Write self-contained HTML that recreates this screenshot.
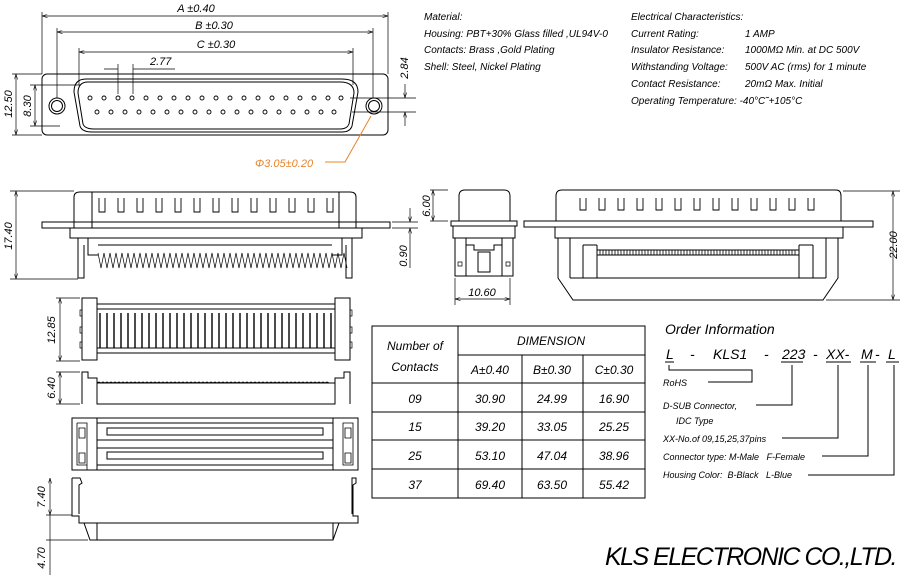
<!DOCTYPE html>
<html><head><style>
html,body{margin:0;padding:0;background:#fff}
svg{display:block}
text{font-family:"Liberation Sans",sans-serif;font-style:italic;fill:#000}
</style></head><body>
<svg width="907" height="576" viewBox="0 0 907 576" xmlns="http://www.w3.org/2000/svg">
<defs>
<marker id="a" viewBox="0 0 10 6" refX="10" refY="3" markerWidth="8" markerHeight="5" orient="auto-start-reverse"><path d="M0,0L10,3L0,6" fill="none" stroke="#000" stroke-width="1"/></marker>
</defs>
<g stroke="#000" stroke-width="1" fill="none">
<rect x="42" y="74" width="346" height="61" rx="5"/>
<path d="M86,79 H342 Q358,79 358,92 L352,126 Q350,132 342,132 H92 Q82,132 80,126 L74,92 Q74,79 86,79Z"/>
<path d="M88,82 H340 Q354,82 354,93 L349,124 Q347,129 340,129 H94 Q85,129 83,124 L78,93 Q78,82 88,82Z"/>
<circle cx="57" cy="106" r="8"/><circle cx="57" cy="106" r="5.5"/>
<circle cx="374" cy="106" r="8"/><circle cx="374" cy="106" r="5.5"/>
<g stroke-width="0.9">
<circle cx="90" cy="98" r="2"/><circle cx="104" cy="98" r="2"/><circle cx="118" cy="98" r="2"/><circle cx="132" cy="98" r="2"/><circle cx="146" cy="98" r="2"/><circle cx="160" cy="98" r="2"/><circle cx="174" cy="98" r="2"/><circle cx="188" cy="98" r="2"/><circle cx="202" cy="98" r="2"/><circle cx="216" cy="98" r="2"/><circle cx="230" cy="98" r="2"/><circle cx="244" cy="98" r="2"/><circle cx="258" cy="98" r="2"/><circle cx="272" cy="98" r="2"/><circle cx="286" cy="98" r="2"/><circle cx="300" cy="98" r="2"/><circle cx="314" cy="98" r="2"/><circle cx="328" cy="98" r="2"/><circle cx="341" cy="98" r="2"/>
<circle cx="97" cy="112" r="2"/><circle cx="111" cy="112" r="2"/><circle cx="125" cy="112" r="2"/><circle cx="139" cy="112" r="2"/><circle cx="153" cy="112" r="2"/><circle cx="167" cy="112" r="2"/><circle cx="181" cy="112" r="2"/><circle cx="195" cy="112" r="2"/><circle cx="209" cy="112" r="2"/><circle cx="223" cy="112" r="2"/><circle cx="237" cy="112" r="2"/><circle cx="251" cy="112" r="2"/><circle cx="265" cy="112" r="2"/><circle cx="279" cy="112" r="2"/><circle cx="293" cy="112" r="2"/><circle cx="307" cy="112" r="2"/><circle cx="321" cy="112" r="2"/><circle cx="334" cy="112" r="2"/>
</g>
<g stroke-width="0.7">
<path d="M42,74V12 M388,74V12 M57,98V28 M373,98V28 M79,85V48 M353,85V48"/>
<line x1="42" y1="16" x2="388" y2="16" marker-start="url(#a)" marker-end="url(#a)"/>
<line x1="57" y1="32" x2="373" y2="32" marker-start="url(#a)" marker-end="url(#a)"/>
<line x1="79" y1="52" x2="353" y2="52" marker-start="url(#a)" marker-end="url(#a)"/>
<path d="M118,94V64 M133,94V64 M104,69H118 M133,69H175"/>
<path d="M12,74H42 M30,85H80 M30,126H60 M12,135H42"/>
<line x1="16" y1="74" x2="16" y2="135" marker-start="url(#a)" marker-end="url(#a)"/>
<line x1="35" y1="85" x2="35" y2="126" marker-start="url(#a)" marker-end="url(#a)"/>
<path d="M350,98H416 M352,112H416"/>
<line x1="405" y1="84" x2="405" y2="98" marker-end="url(#a)"/>
<line x1="405" y1="126" x2="405" y2="112" marker-end="url(#a)"/>
</g>
<path d="M325,162H345L371,116" stroke="#e8842a" stroke-width="1"/>
<path d="M74,228V197Q74,192 80,192H350Q356,192 356,197V228"/>
<path d="M92,192V228 M339,192V228"/>
<g stroke-width="0.9"><path d="M99,198v14h6v-14 M118,198v14h6v-14 M137,198v14h6v-14 M156,198v14h6v-14 M175,198v14h6v-14 M194,198v14h6v-14 M213,198v14h6v-14 M232,198v14h6v-14 M251,198v14h6v-14 M270,198v14h6v-14 M289,198v14h6v-14 M308,198v14h6v-14 M327,198v14h6v-14"/></g>
<rect x="42" y="222" width="348" height="6"/>
<path d="M70,228V238H362V228 M78,238V278H84V245 M352,238V278H346V245 M88,238V255H98 M342,238V255H332 M98,245H332"/>
<path d="M98,253 l3,15 l3,-15 l3,15 l3,-15 l3,15 l3,-15 l3,15 l3,-15 l3,15 l3,-15 l3,15 l3,-15 l3,15 l3,-15 l3,15 l3,-15 l3,15 l3,-15 l3,15 l3,-15 l3,15 l3,-15 l3,15 l3,-15 l3,15 l3,-15 l3,15 l3,-15 l3,15 l3,-15 l3,15 l3,-15 l3,15 l3,-15 l3,15 l3,-15 l3,15 l3,-15 l3,15 l3,-15 l3,15 l3,-15 l3,15 l3,-15 l3,15 l3,-15 l3,15 l3,-15 l3,15 l3,-15 l3,15 l3,-15 l3,15 l3,-15 l3,15 l3,-15 l3,15 l3,-15 l3,15 l3,-15 l3,15 l3,-15 l3,15 l3,-15 l3,15 l3,-15 l3,15 l3,-15 l3,15 l3,-15 l3,15 l3,-15 l3,15 l3,-15 l3,15 l3,-15 l3,15 l3,-15 l3,15 l3,-15 l3,15 l3,-15 l3,15" stroke-width="0.7"/>
<g stroke-width="0.7">
<path d="M10,191H74 M10,279H78"/>
<line x1="16" y1="191" x2="16" y2="279" marker-start="url(#a)" marker-end="url(#a)"/>
<path d="M392,222H418 M392,228H418"/>
<line x1="410" y1="208" x2="410" y2="222" marker-end="url(#a)"/>
<line x1="410" y1="242" x2="410" y2="228" marker-end="url(#a)"/>
<path d="M410,242V268 M430,190H448 M430,221H448"/>
<line x1="433" y1="190" x2="433" y2="221" marker-start="url(#a)" marker-end="url(#a)"/>
</g>
<path d="M459,221V196Q459,190 465,190H504Q510,190 510,196V221"/>
<rect x="451" y="221" width="66" height="5"/>
<path d="M453,226V238H515V226 M455,238V276H513V238 M466,238V276 M502,238V276 M466,245H474V250H494V245H502 M478,252H490V272H478Z"/>
<path d="M458,262h4v4h-4z M506,262h4v4h-4z" stroke-width="0.7"/>
<g stroke-width="0.7"><path d="M455,278V305 M510,278V305"/><line x1="455" y1="299" x2="510" y2="299" marker-start="url(#a)" marker-end="url(#a)"/></g>
<path d="M556,221V196Q556,190 562,190H836Q841,190 841,196V221"/>
<g stroke-width="0.9"><path d="M580,198v12h6v-12 M599,198v12h6v-12 M618,198v12h6v-12 M637,198v12h6v-12 M656,198v12h6v-12 M675,198v12h6v-12 M694,198v12h6v-12 M713,198v12h6v-12 M732,198v12h6v-12 M751,198v12h6v-12 M770,198v12h6v-12 M789,198v12h6v-12 M808,198v12h6v-12"/></g>
<rect x="524" y="221" width="349" height="6"/>
<path d="M555,227V238H843V227 M558,238V278L573,300H823L838,278V238 M570,238V278 M826,238V278 M570,278H826 M583,245V278 M813,245V278 M583,245H597 M799,245H813 M597,250H799 M597,255H799 M597,245V278 M799,245V278"/>
<path d="M597,250 v5 M600,250v5 M603,250v5 M606,250v5 M609,250v5 M612,250v5 M615,250v5 M618,250v5 M621,250v5 M624,250v5 M627,250v5 M630,250v5 M633,250v5 M636,250v5 M639,250v5 M642,250v5 M645,250v5 M648,250v5 M651,250v5 M654,250v5 M657,250v5 M660,250v5 M663,250v5 M666,250v5 M669,250v5 M672,250v5 M675,250v5 M678,250v5 M681,250v5 M684,250v5 M687,250v5 M690,250v5 M693,250v5 M696,250v5 M699,250v5 M702,250v5 M705,250v5 M708,250v5 M711,250v5 M714,250v5 M717,250v5 M720,250v5 M723,250v5 M726,250v5 M729,250v5 M732,250v5 M735,250v5 M738,250v5 M741,250v5 M744,250v5 M747,250v5 M750,250v5 M753,250v5 M756,250v5 M759,250v5 M762,250v5 M765,250v5 M768,250v5 M771,250v5 M774,250v5 M777,250v5 M780,250v5 M783,250v5 M786,250v5 M789,250v5 M792,250v5 M795,250v5" stroke-width="0.8"/>
<g stroke-width="0.7"><path d="M843,191H900 M826,300H900"/><line x1="893" y1="191" x2="893" y2="300" marker-start="url(#a)" marker-end="url(#a)"/></g>
<path d="M82,298H97V360H82Z M335,298H350V360H335Z M97,304H335 M97,309H335 M97,348H335 M97,353H335"/>
<path d="M80,310h2v6h-2z M80,327h2v6h-2z M80,342h2v6h-2z M350,310h2v6h-2z M350,327h2v6h-2z M350,342h2v6h-2z" stroke-width="0.7"/>
<path d="M100,313V348 M107,313V348 M114,313V348 M121,313V348 M128,313V348 M135,313V348 M142,313V348 M149,313V348 M156,313V348 M163,313V348 M170,313V348 M177,313V348 M184,313V348 M191,313V348 M198,313V348 M205,313V348 M212,313V348 M219,313V348 M226,313V348 M233,313V348 M240,313V348 M247,313V348 M254,313V348 M261,313V348 M268,313V348 M275,313V348 M282,313V348 M289,313V348 M296,313V348 M303,313V348 M310,313V348 M317,313V348 M324,313V348 M331,313V348" stroke-width="1.4"/>
<g stroke-width="0.7"><path d="M56,298H80 M56,361H80"/><line x1="60" y1="298" x2="60" y2="361" marker-start="url(#a)" marker-end="url(#a)"/></g>
<path d="M82,404V372H88V378H97V404H335V378H344V372H350V404 M97,383H335"/>
<path d="M97,383 q2,-2 4,0 q2,-2 4,0 q2,-2 4,0 q2,-2 4,0 q2,-2 4,0 q2,-2 4,0 q2,-2 4,0 q2,-2 4,0 q2,-2 4,0 q2,-2 4,0 q2,-2 4,0 q2,-2 4,0 q2,-2 4,0 q2,-2 4,0 q2,-2 4,0 q2,-2 4,0 q2,-2 4,0 q2,-2 4,0 q2,-2 4,0 q2,-2 4,0 q2,-2 4,0 q2,-2 4,0 q2,-2 4,0 q2,-2 4,0 q2,-2 4,0 q2,-2 4,0 q2,-2 4,0 q2,-2 4,0 q2,-2 4,0 q2,-2 4,0 q2,-2 4,0 q2,-2 4,0 q2,-2 4,0 q2,-2 4,0 q2,-2 4,0 q2,-2 4,0 q2,-2 4,0 q2,-2 4,0 q2,-2 4,0 q2,-2 4,0 q2,-2 4,0 q2,-2 4,0 q2,-2 4,0 q2,-2 4,0 q2,-2 4,0 q2,-2 4,0 q2,-2 4,0 q2,-2 4,0 q2,-2 4,0 q2,-2 4,0 q2,-2 4,0 q2,-2 4,0 q2,-2 4,0 q2,-2 4,0 q2,-2 4,0 q2,-2 4,0 q2,-2 4,0 q2,-2 4,0" stroke-width="0.7"/>
<g stroke-width="0.7"><path d="M56,372H80 M56,404H80"/><line x1="60" y1="372" x2="60" y2="404" marker-start="url(#a)" marker-end="url(#a)"/></g>
<rect x="72" y="418" width="286" height="52"/>
<path d="M97,418V470 M333,418V470 M97,423H333 M97,440H333 M97,448H333 M97,465H333"/>
<rect x="107" y="428" width="216" height="7"/><rect x="107" y="452" width="216" height="7"/>
<path d="M77,423H87V470 M77,423V465H87 M79,428h6v10h-6z M79,453h6v10h-6z M343,423H353V465H343Z M345,428h6v10h-6z M345,453h6v10h-6z" stroke-width="0.8"/>
<path d="M72,478V516H79V523H84L90,540H333L339,523H358V516H353V485L356,483V478H352V514 M72,478H80L82,483L79,485V514 M97,523V540 M333,523V540 M97,523H333 M84,523H97 M333,523H339"/>
<g stroke-width="0.7"><path d="M46,515H72 M46,540H88"/><line x1="50" y1="478" x2="50" y2="515" marker-start="url(#a)" marker-end="url(#a)"/><path d="M50,515V575"/></g>
<rect x="372" y="326" width="273" height="172"/>
<path d="M458,326V498 M522,355V498 M583,355V498 M458,355H645 M372,383H645 M372,412H645 M372,440H645 M372,469H645"/>
<g stroke-width="1">
<path d="M665,362H674 M781,362H803 M826,362H851 M860,362H876 M886,362H899"/>
<path d="M669,365V370H752V382H708"/>
<path d="M792,365V405H756"/>
<path d="M838,365V438H782"/>
<path d="M868,365V456H822"/>
<path d="M894,365V475H808"/>
</g>
</g>
<g font-size="11">
<text x="196" y="12" text-anchor="middle">A ±0.40</text>
<text x="214" y="29" text-anchor="middle">B ±0.30</text>
<text x="216" y="48" text-anchor="middle">C ±0.30</text>
<text x="150" y="65">2.77</text>
<text transform="translate(12,104) rotate(-90)" text-anchor="middle">12.50</text>
<text transform="translate(31,106) rotate(-90)" text-anchor="middle">8.30</text>
<text transform="translate(408,68) rotate(-90)" text-anchor="middle">2.84</text>
<text x="255" y="167" style="fill:#e8842a">Φ3.05±0.20</text>
<text transform="translate(12,236) rotate(-90)" text-anchor="middle">17.40</text>
<text transform="translate(407,256) rotate(-90)" text-anchor="middle">0.90</text>
<text transform="translate(430,206) rotate(-90)" text-anchor="middle">6.00</text>
<text x="482" y="296" text-anchor="middle">10.60</text>
<text transform="translate(897,245) rotate(-90)" text-anchor="middle">22.00</text>
<text transform="translate(55,330) rotate(-90)" text-anchor="middle">12.85</text>
<text transform="translate(55,388) rotate(-90)" text-anchor="middle">6.40</text>
<text transform="translate(45,497) rotate(-90)" text-anchor="middle">7.40</text>
<text transform="translate(45,558) rotate(-90)" text-anchor="middle">4.70</text>
</g>
<g font-size="10">
<text x="424" y="20">Material:</text>
<text x="424" y="37">Housing: PBT+30% Glass filled ,UL94V-0</text>
<text x="424" y="53">Contacts: Brass ,Gold Plating</text>
<text x="424" y="70">Shell: Steel, Nickel Plating</text>
<text x="631" y="20">Electrical Characteristics:</text>
<text x="631" y="37">Current Rating:</text><text x="745" y="37">1 AMP</text>
<text x="631" y="53">Insulator Resistance:</text><text x="745" y="53">1000MΩ Min. at DC 500V</text>
<text x="631" y="70">Withstanding Voltage:</text><text x="745" y="70">500V AC (rms) for 1 minute</text>
<text x="631" y="87">Contact Resistance:</text><text x="745" y="87">20mΩ Max. Initial</text>
<text x="631" y="104">Operating Temperature: -40°C˜+105°C</text>
</g>
<g font-size="12" text-anchor="middle">
<text x="415" y="350">Number of</text>
<text x="415" y="371">Contacts</text>
<text x="551" y="345">DIMENSION</text>
<text x="490" y="374">A±0.40</text><text x="552" y="374">B±0.30</text><text x="614" y="374">C±0.30</text>
<text x="415" y="403">09</text><text x="490" y="403">30.90</text><text x="552" y="403">24.99</text><text x="614" y="403">16.90</text>
<text x="415" y="431">15</text><text x="490" y="431">39.20</text><text x="552" y="431">33.05</text><text x="614" y="431">25.25</text>
<text x="415" y="460">25</text><text x="490" y="460">53.10</text><text x="552" y="460">47.04</text><text x="614" y="460">38.96</text>
<text x="415" y="489">37</text><text x="490" y="489">69.40</text><text x="552" y="489">63.50</text><text x="614" y="489">55.42</text>
</g>
<text x="665" y="334" font-size="14">Order Information</text>
<g font-size="14">
<text x="666" y="359">L</text>
<text x="690" y="359">-</text>
<text x="713" y="359">KLS1</text>
<text x="764" y="359">-</text>
<text x="782" y="359">223</text>
<text x="813" y="359">-</text>
<text x="826" y="359">XX-</text>
<text x="861" y="359">M</text>
<text x="875" y="359">-</text>
<text x="888" y="359">L</text>
</g>
<g font-size="9">
<text x="663" y="386">RoHS</text>
<text x="663" y="409">D-SUB Connector,</text>
<text x="676" y="424">IDC Type</text>
<text x="663" y="442">XX-No.of 09,15,25,37pins</text>
<text x="663" y="460" xml:space="preserve">Connector type: M-Male   F-Female</text>
<text x="663" y="478" xml:space="preserve">Housing Color:  B-Black   L-Blue</text>
</g>
<text x="605" y="565" font-size="25" letter-spacing="0.5" textLength="293">KLS ELECTRONIC CO.,LTD.</text>
</svg>
</body></html>
